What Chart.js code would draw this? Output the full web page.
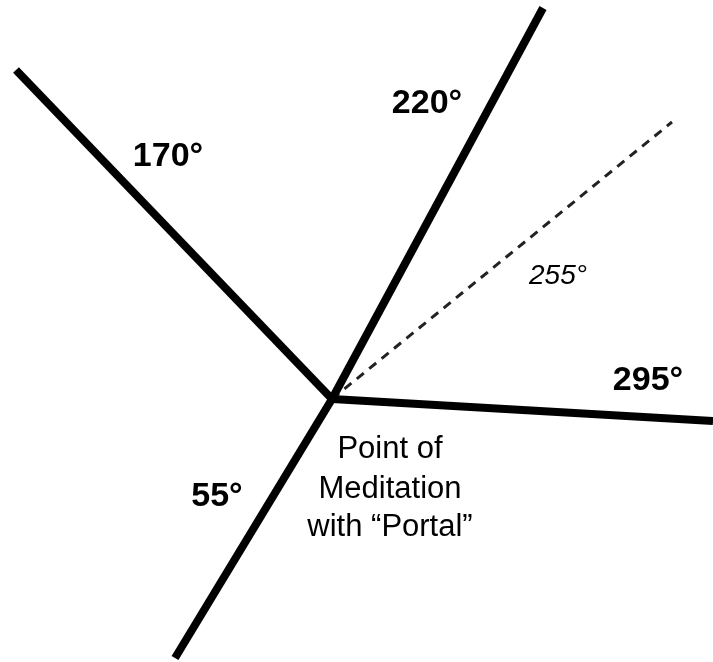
<!DOCTYPE html>
<html>
<head>
<meta charset="utf-8">
<script src="https://cdn.jsdelivr.net/npm/chart.js@4/dist/chart.umd.min.js"></script>
<style>
  html, body { margin: 0; padding: 0; background: #fff; }
  #wrap { width: 713px; height: 662px; position: relative; }
</style>
</head>
<body>
<div id="wrap"><canvas id="c"></canvas></div>
<script>
// Rays radiating from the point of meditation
const rayNames = ['170°', '220°', '255°', '295°', '55°'];
const centerPoint = { x: 332, y: 399 };
const rayEndX = [16, 543, 672, 713, 175];
const rayEndY = [70, 8, 122, 421, 658];
const rayDashed = [false, false, true, false, false];

// Text annotations
const labelTexts = ['170°', '220°', '255°', '295°', '55°', 'Point of', 'Meditation', 'with “Portal”'];
const labelX = [168, 427, 558, 648, 217, 390, 390, 390];
const labelY = [157, 104, 276, 381, 497, 449, 489, 527];
const labelStyle = ['bold', 'bold', 'italic', 'bold', 'bold', 'plain', 'plain', 'plain'];

const datasets = rayNames.map((name, i) => ({
  label: name,
  data: [centerPoint, { x: rayEndX[i], y: rayEndY[i] }],
  showLine: true,
  borderColor: rayDashed[i] ? '#222' : '#000',
  borderWidth: rayDashed[i] ? 3 : 8,
  borderDash: rayDashed[i] ? [9, 7] : [],
  pointRadius: 0,
  fill: false,
  tension: 0
}));

const textPlugin = {
  id: 'textLabels',
  afterDatasetsDraw(chart) {
    const ctx = chart.ctx;
    const xs = chart.scales.x, ys = chart.scales.y;
    ctx.save();
    ctx.textAlign = 'center';
    ctx.textBaseline = 'middle';
    ctx.fillStyle = '#000';
    labelTexts.forEach((t, i) => {
      const st = labelStyle[i];
      if (st === 'bold') ctx.font = 'bold 34px "Liberation Sans", Arial, sans-serif';
      else if (st === 'italic') ctx.font = 'italic 28px "Liberation Sans", Arial, sans-serif';
      else ctx.font = '31px "Liberation Sans", Arial, sans-serif';
      ctx.fillText(t, xs.getPixelForValue(labelX[i]), ys.getPixelForValue(labelY[i]));
    });
    ctx.restore();
  }
};

new Chart(document.getElementById('c'), {
  type: 'scatter',
  data: { datasets },
  options: {
    responsive: true,
    maintainAspectRatio: false,
    animation: false,
    layout: { padding: 0 },
    plugins: { legend: { display: false }, tooltip: { enabled: false } },
    elements: { line: { borderCapStyle: 'butt', borderJoinStyle: 'miter' } },
    scales: {
      x: { type: 'linear', min: 0, max: 713, display: false },
      y: { type: 'linear', min: 0, max: 662, reverse: true, display: false }
    }
  },
  plugins: [textPlugin]
});
</script>
</body>
</html>
